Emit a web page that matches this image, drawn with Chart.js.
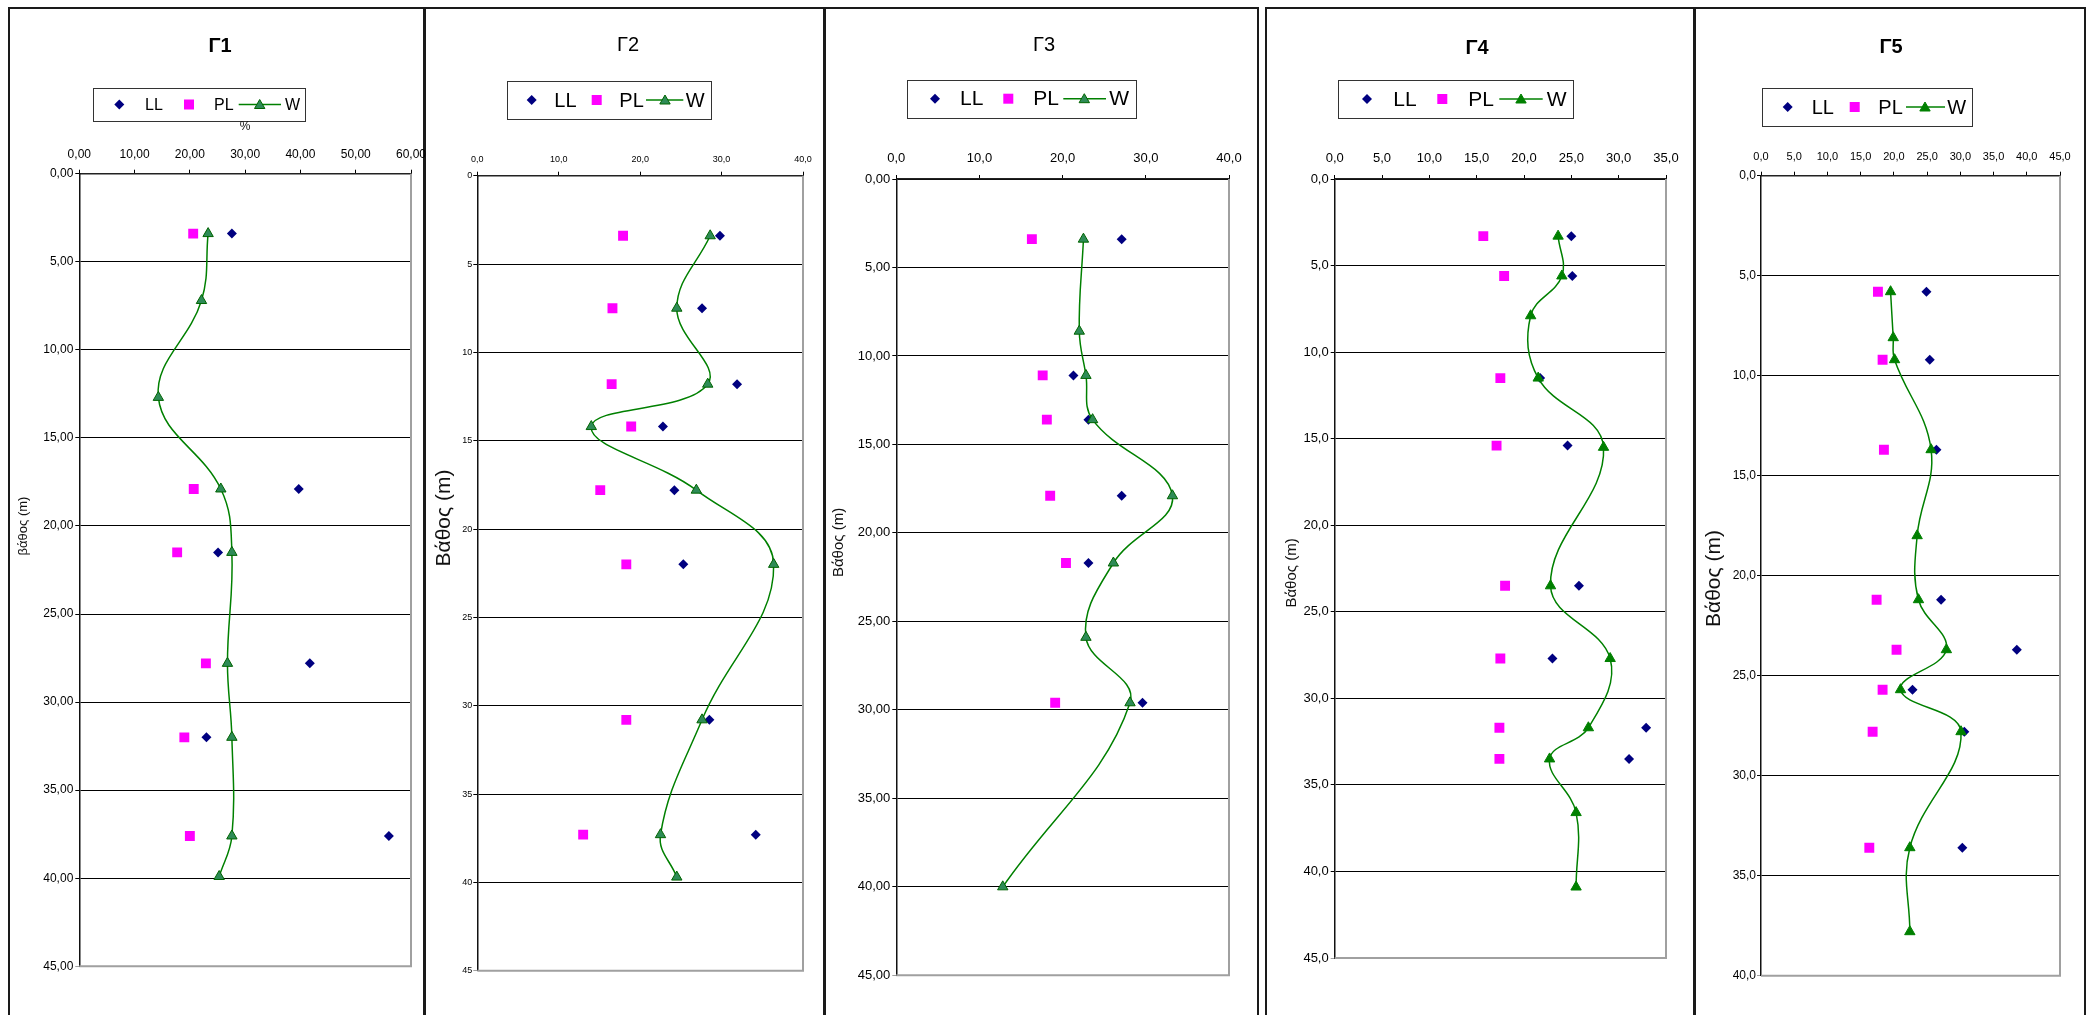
<!DOCTYPE html>
<html>
<head>
<meta charset="utf-8">
<script src="https://cdn.jsdelivr.net/npm/chart.js@4.4.1/dist/chart.umd.min.js"></script>
<style>
  html, body { margin: 0; padding: 0; background: #fff; width: 2094px; height: 1015px; overflow: hidden; position: relative; }
  .frame { position: absolute; top: 7px; height: 1100px; border: 2px solid #1a1a1a; box-sizing: border-box; }
  canvas { position: absolute; top: 0; }
</style>
</head>
<body>
<script>
// Borehole names and series names
const boreholes = ['Γ1', 'Γ2', 'Γ3', 'Γ4', 'Γ5'];
const seriesNames = ['LL', 'PL', 'W'];

// Γ1 — depth (m) and water content / Atterberg limits (%)
const g1WDepth = [3.4, 7.2, 12.7, 17.9, 21.5, 27.8, 32.0, 37.6, 39.9];
const g1W = [23.3, 22.1, 14.3, 25.6, 27.6, 26.8, 27.6, 27.6, 25.3];
const g1LimDepth = [3.4, 17.9, 21.5, 27.8, 32.0, 37.6];
const g1LL = [27.6, 39.7, 25.1, 41.7, 23.0, 56.0];
const g1PL = [20.6, 20.7, 17.7, 22.9, 19.0, 20.0];
const g1XTicks = ['0,00', '10,00', '20,00', '30,00', '40,00', '50,00', '60,00'];
const g1YTicks = ['0,00', '5,00', '10,00', '15,00', '20,00', '25,00', '30,00', '35,00', '40,00', '45,00'];

// Γ2
const g2WDepth = [3.4, 7.5, 11.8, 14.2, 17.8, 22.0, 30.8, 37.3, 39.7];
const g2W = [28.6, 24.5, 28.3, 14.0, 26.9, 36.4, 27.6, 22.5, 24.5];
const g2LimDepth = [3.4, 7.5, 11.8, 14.2, 17.8, 22.0, 30.8, 37.3];
const g2LL = [29.8, 27.6, 31.9, 22.8, 24.2, 25.3, 28.5, 34.2];
const g2PL = [17.9, 16.6, 16.5, 18.9, 15.1, 18.3, 18.3, 13.0];
const g2XTicks = ['0,0', '10,0', '20,0', '30,0', '40,0'];
const g2YTicks = ['0', '5', '10', '15', '20', '25', '30', '35', '40', '45'];

// Γ3
const g3WDepth = [3.4, 8.6, 11.1, 13.6, 17.9, 21.7, 25.9, 29.6, 40.0];
const g3W = [22.5, 22.0, 22.8, 23.6, 33.2, 26.1, 22.8, 28.1, 12.8];
const g3LimDepth = [3.4, 11.1, 13.6, 17.9, 21.7, 29.6];
const g3LL = [27.1, 21.3, 23.1, 27.1, 23.1, 29.6];
const g3PL = [16.3, 17.6, 18.1, 18.5, 20.4, 19.1];
const g3XTicks = ['0,0', '10,0', '20,0', '30,0', '40,0'];
const g3YTicks = ['0,00', '5,00', '10,00', '15,00', '20,00', '25,00', '30,00', '35,00', '40,00', '45,00'];

// Γ4
const g4WDepth = [3.3, 5.6, 7.9, 11.5, 15.5, 23.5, 27.7, 31.7, 33.5, 36.6, 40.9];
const g4W = [23.6, 24.0, 20.7, 21.5, 28.4, 22.8, 29.1, 26.8, 22.7, 25.5, 25.5];
const g4LimDepth = [3.3, 5.6, 11.5, 15.4, 23.5, 27.7, 31.7, 33.5];
const g4LL = [25.0, 25.1, 21.7, 24.6, 25.8, 23.0, 32.9, 31.1];
const g4PL = [15.7, 17.9, 17.5, 17.1, 18.0, 17.5, 17.4, 17.4];
const g4XTicks = ['0,0', '5,0', '10,0', '15,0', '20,0', '25,0', '30,0', '35,0'];
const g4YTicks = ['0,0', '5,0', '10,0', '15,0', '20,0', '25,0', '30,0', '35,0', '40,0', '45,0'];

// Γ5
const g5WDepth = [5.8, 8.1, 9.2, 13.7, 18.0, 21.2, 23.7, 25.7, 27.8, 33.6, 37.8];
const g5W = [19.5, 19.9, 20.1, 25.6, 23.5, 23.7, 27.9, 21.0, 30.1, 22.4, 22.4];
const g5LimDepth = [5.8, 9.2, 13.7, 21.2, 23.7, 25.7, 27.8, 33.6];
const g5LL = [24.9, 25.4, 26.4, 27.1, 38.5, 22.8, 30.6, 30.3];
const g5PL = [17.6, 18.3, 18.5, 17.4, 20.4, 18.3, 16.8, 16.3];
const g5XTicks = ['0,0', '5,0', '10,0', '15,0', '20,0', '25,0', '30,0', '35,0', '40,0', '45,0'];
const g5YTicks = ['0,0', '5,0', '10,0', '15,0', '20,0', '25,0', '30,0', '35,0', '40,0'];

const depthTitleLower = 'βάθος (m)';
const depthTitle = 'Βάθος (m)';
const percentTitle = '%';

// ---- styling ----
const PAGE_H = 1015;
const SANS = "'Liberation Sans', Arial, sans-serif";
const NARROW = "'Liberation Sans Narrow', 'Arial Narrow', 'Liberation Sans', Arial, sans-serif";
const LL_COLOR = '#000080';
const PL_COLOR = '#FF00FF';
const W_COLOR = '#008000';

function pts(depths, vals) {
  return vals.map((v, i) => ({ x: v, y: depths[i] }));
}

const panels = [
  {
    name: boreholes[0], W: pts(g1WDepth, g1W), LL: pts(g1LimDepth, g1LL), PL: pts(g1LimDepth, g1PL),
    xMax: 60, xStep: 10, yMax: 45, yStep: 5, xTicks: g1XTicks, yTicks: g1YTicks,
    frame: [8, 425], plot: { l: 79.3, r: 411, t: 173.7, b: 966.3 },
    xFont: 12, yFont: 12, xPad: 8, yPad: 2,
    title: { x: 220, y: 46, font: 'bold 20px ' + SANS },
    legend: { box: [93, 88, 305, 121], cy: 104.5, font: '16px ' + SANS, ll: 119.3, llText: 145, pl: 189, plText: 214, line: [238.7, 281], tri: 259.7, wText: 285 },
    yTitle: { text: depthTitleLower, x: 23, y: 526, font: '13px ' + SANS },
    xTitle: { text: percentTitle, x: 245, y: 127, font: '12px ' + SANS },
    tri: { fill: '#2E8B57', stroke: '#006400' }
  },
  {
    name: boreholes[1], W: pts(g2WDepth, g2W), LL: pts(g2LimDepth, g2LL), PL: pts(g2LimDepth, g2PL),
    xMax: 40, xStep: 10, yMax: 45, yStep: 5, xTicks: g2XTicks, yTicks: g2YTicks,
    frame: [424, 825], plot: { l: 477.3, r: 803, t: 175.7, b: 970.7 },
    xFont: 9, yFont: 9, xPad: 7, yPad: 1,
    title: { x: 628, y: 45, font: '20px ' + SANS },
    legend: { box: [506.7, 81, 710.3, 119], cy: 100, font: '20px ' + SANS, ll: 531.7, llText: 554.3, pl: 596.7, plText: 619.3, line: [646, 683.3], tri: 665, wText: 685.7 },
    yTitle: { text: depthTitle, x: 444, y: 518, font: '21px ' + SANS },
    xTitle: null,
    tri: { fill: '#2E8B57', stroke: '#006400' }
  },
  {
    name: boreholes[2], W: pts(g3WDepth, g3W), LL: pts(g3LimDepth, g3LL), PL: pts(g3LimDepth, g3PL),
    xMax: 40, xStep: 10, yMax: 45, yStep: 5, xTicks: g3XTicks, yTicks: g3YTicks,
    frame: [824, 1259], plot: { l: 896.3, r: 1229, t: 179, b: 975.3 },
    xFont: 13, yFont: 13, xPad: 9, yPad: 2,
    title: { x: 1044, y: 45, font: '20px ' + SANS },
    legend: { box: [906.7, 79.7, 1135.3, 117.7], cy: 98.7, font: '21px ' + SANS, ll: 935, llText: 960, pl: 1008.3, plText: 1033.3, line: [1063.3, 1106], tri: 1084.3, wText: 1109.3 },
    yTitle: { text: depthTitle, x: 838.5, y: 542.5, font: '15px ' + SANS },
    xTitle: null,
    tri: { fill: '#2E8B57', stroke: '#006400' }
  },
  {
    name: boreholes[3], W: pts(g4WDepth, g4W), LL: pts(g4LimDepth, g4LL), PL: pts(g4LimDepth, g4PL),
    xMax: 35, xStep: 5, yMax: 45, yStep: 5, xTicks: g4XTicks, yTicks: g4YTicks,
    frame: [1265, 1695], plot: { l: 1334.7, r: 1666, t: 179, b: 958 },
    xFont: 13, yFont: 13, xPad: 9, yPad: 2,
    title: { x: 1477, y: 48, font: 'bold 20px ' + SANS },
    legend: { box: [1338, 80, 1573, 118], cy: 99, font: '21px ' + SANS, ll: 1367, llText: 1393.3, pl: 1442.3, plText: 1468.3, line: [1499.3, 1542.7], tri: 1521, wText: 1546.7 },
    yTitle: { text: depthTitle, x: 1292, y: 573, font: '15px ' + SANS },
    xTitle: null,
    tri: { fill: '#008000', stroke: '#008000' }
  },
  {
    name: boreholes[4], W: pts(g5WDepth, g5W), LL: pts(g5LimDepth, g5LL), PL: pts(g5LimDepth, g5PL),
    xMax: 45, xStep: 5, yMax: 40, yStep: 5, xTicks: g5XTicks, yTicks: g5YTicks,
    frame: [1694, 2086], plot: { l: 1761, r: 2060, t: 175.7, b: 975.7 },
    xFont: 11, yFont: 12, xPad: 8, yPad: 1,
    title: { x: 1891, y: 47, font: 'bold 20px ' + SANS },
    legend: { box: [1762, 87.7, 1971.7, 125.7], cy: 107, font: '20px ' + SANS, ll: 1787.7, llText: 1811.7, pl: 1854.7, plText: 1878.3, line: [1906, 1945], tri: 1925, wText: 1947.3 },
    yTitle: { text: depthTitle, x: 1714, y: 578.5, font: '21px ' + SANS },
    xTitle: null,
    tri: { fill: '#008000', stroke: '#008000' }
  }
];

// Marker shapes for the boxed legend
function drawDiamond(ctx, x, y, r) {
  ctx.beginPath();
  ctx.moveTo(x - r, y); ctx.lineTo(x, y - r); ctx.lineTo(x + r, y); ctx.lineTo(x, y + r);
  ctx.closePath();
  ctx.fillStyle = LL_COLOR; ctx.fill();
}
function drawSquare(ctx, x, y, s) {
  ctx.fillStyle = PL_COLOR;
  ctx.fillRect(x - s / 2, y - s / 2, s, s);
}
function drawTriangle(ctx, x, y, r, fill, stroke) {
  ctx.beginPath();
  ctx.moveTo(x, y - r);
  ctx.lineTo(x + 0.866 * r, y + 0.5 * r);
  ctx.lineTo(x - 0.866 * r, y + 0.5 * r);
  ctx.closePath();
  ctx.fillStyle = fill; ctx.fill();
  ctx.strokeStyle = stroke; ctx.lineWidth = 1; ctx.stroke();
}

// Plot-area edges, title, boxed legend and axis titles of a panel
const panelDecor = {
  id: 'panelDecor',
  beforeDatasetsDraw(chart) {
    const a = chart.chartArea, ctx = chart.ctx;
    ctx.save();
    ctx.strokeStyle = '#a0a0a0';
    ctx.lineWidth = 2;
    ctx.beginPath();
    ctx.moveTo(a.right, a.top);
    ctx.lineTo(a.right, a.bottom);
    ctx.lineTo(a.left, a.bottom);
    ctx.stroke();
    ctx.restore();
  },
  afterDraw(chart, args, o) {
    const ctx = chart.ctx, ox = o.offsetX, p = o.panel;
    ctx.save();
    ctx.fillStyle = '#000';
    ctx.textAlign = 'center';
    ctx.textBaseline = 'middle';
    ctx.font = p.title.font;
    ctx.fillText(p.name, p.title.x - ox, p.title.y);

    const L = p.legend;
    ctx.strokeStyle = '#333';
    ctx.lineWidth = 1;
    ctx.strokeRect(Math.round(L.box[0] - ox) + 0.5, Math.round(L.box[1]) + 0.5,
      Math.round(L.box[2] - L.box[0]), Math.round(L.box[3] - L.box[1]));
    drawDiamond(ctx, L.ll - ox, L.cy, 5);
    drawSquare(ctx, L.pl - ox, L.cy, 10);
    ctx.strokeStyle = W_COLOR; ctx.lineWidth = 1.5;
    ctx.beginPath();
    ctx.moveTo(L.line[0] - ox, L.cy); ctx.lineTo(L.line[1] - ox, L.cy);
    ctx.stroke();
    drawTriangle(ctx, L.tri - ox, L.cy + 1, 6, p.tri.fill, p.tri.stroke);
    ctx.fillStyle = '#000';
    ctx.font = L.font;
    ctx.textAlign = 'left';
    ctx.fillText(seriesNames[0], L.llText - ox, L.cy + 1);
    ctx.fillText(seriesNames[1], L.plText - ox, L.cy + 1);
    ctx.fillText(seriesNames[2], L.wText - ox, L.cy + 1);

    ctx.textAlign = 'center';
    ctx.fillStyle = '#111';
    ctx.font = p.yTitle.font;
    ctx.save();
    ctx.translate(p.yTitle.x - ox, p.yTitle.y);
    ctx.rotate(-Math.PI / 2);
    ctx.fillText(p.yTitle.text, 0, 0);
    ctx.restore();
    if (p.xTitle) {
      ctx.font = p.xTitle.font;
      ctx.fillText(p.xTitle.text, p.xTitle.x - ox, p.xTitle.y);
    }
    ctx.restore();
  }
};

// Panel frames
panels.forEach((p) => {
  const d = document.createElement('div');
  d.className = 'frame';
  d.style.left = p.frame[0] + 'px';
  d.style.width = (p.frame[1] - p.frame[0]) + 'px';
  document.body.appendChild(d);
});

// One chart per borehole
panels.forEach((p) => {
  const left = p.frame[0];
  const width = Math.ceil(p.plot.r - left + 40);
  const cv = document.createElement('canvas');
  cv.width = width; cv.height = PAGE_H;
  cv.style.left = left + 'px';
  cv.style.width = width + 'px';
  cv.style.height = PAGE_H + 'px';
  document.body.appendChild(cv);

  const padL = 5, padT = 40;
  const yW = p.plot.l - left - padL;
  const xH = p.plot.t - padT;
  const padR = width - (p.plot.r - left);
  const padB = PAGE_H - p.plot.b;

  new Chart(cv.getContext('2d'), {
    type: 'scatter',
    data: {
      datasets: [
        {
          label: seriesNames[2], data: p.W, showLine: true,
          borderColor: W_COLOR, borderWidth: 1.5, tension: 0.4,
          pointStyle: 'triangle', pointRadius: 6,
          pointBackgroundColor: p.tri.fill, pointBorderColor: p.tri.stroke, pointBorderWidth: 1
        },
        {
          label: seriesNames[1], data: p.PL, showLine: false,
          pointStyle: 'rect', pointRadius: 7,
          pointBackgroundColor: PL_COLOR, pointBorderColor: PL_COLOR, pointBorderWidth: 0
        },
        {
          label: seriesNames[0], data: p.LL, showLine: false,
          pointStyle: 'rectRot', pointRadius: 5,
          pointBackgroundColor: LL_COLOR, pointBorderColor: LL_COLOR, pointBorderWidth: 0
        }
      ]
    },
    options: {
      responsive: false,
      devicePixelRatio: 1,
      animation: false,
      events: [],
      layout: { autoPadding: false, padding: { left: padL, top: padT, right: padR, bottom: padB } },
      plugins: {
        legend: { display: false },
        title: { display: false },
        tooltip: { enabled: false },
        panelDecor: { offsetX: left, panel: p }
      },
      scales: {
        x: {
          type: 'linear', position: 'top', min: 0, max: p.xMax,
          ticks: {
            stepSize: p.xStep, autoSkip: false, maxRotation: 0, padding: p.xPad, color: '#000',
            font: { family: NARROW, size: p.xFont },
            callback: (v) => p.xTicks[Math.round(v / p.xStep)]
          },
          grid: { drawOnChartArea: false, drawTicks: true, tickLength: 4, color: '#000' },
          border: { display: true, color: '#222', width: 1.5 },
          afterFit: (s) => { s.height = xH; }
        },
        y: {
          type: 'linear', position: 'left', reverse: true, min: 0, max: p.yMax,
          ticks: {
            stepSize: p.yStep, autoSkip: false, padding: p.yPad, color: '#000',
            font: { family: NARROW, size: p.yFont },
            callback: (v) => p.yTicks[Math.round(v / p.yStep)]
          },
          grid: {
            drawTicks: true, tickLength: 4, lineWidth: 1,
            color: (c) => (c.tick && c.tick.value === p.yMax ? '#a0a0a0' : '#000')
          },
          border: { display: true, color: '#111', width: 1.5 },
          afterFit: (s) => { s.width = yW; }
        }
      }
    },
    plugins: [panelDecor]
  });
});
</script>
</body>
</html>
